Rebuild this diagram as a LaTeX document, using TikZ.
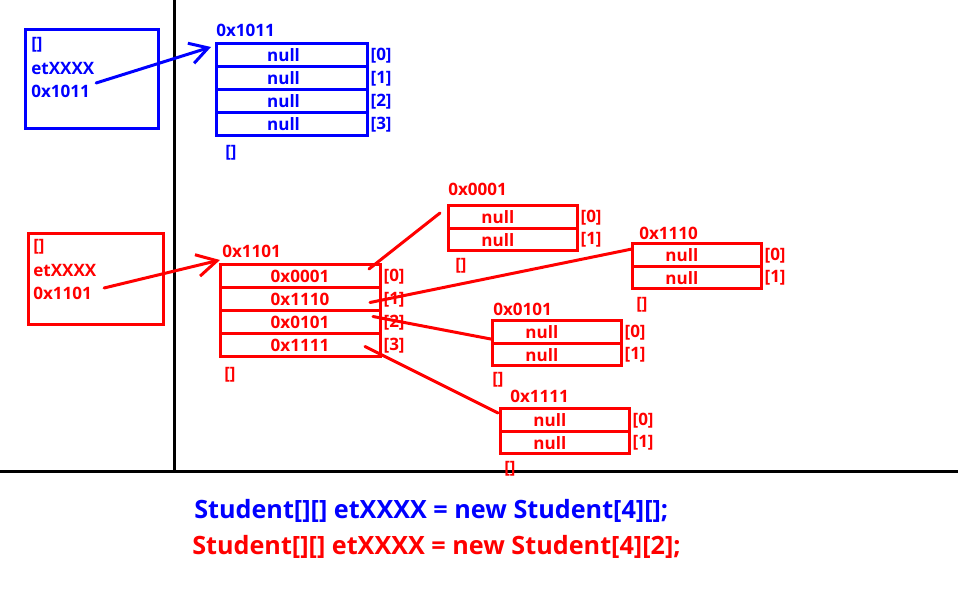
\documentclass[tikz,border=0pt]{standalone}
\usepackage{fontspec}
\setmainfont{Open Sans}
\usetikzlibrary{arrows.meta, calc, positioning}

\tikzset{
  sep/.style={line width=2.25pt},
  txt/.style={anchor=west, inner sep=0pt, font=\bfseries\fontsize{12.8}{15}\selectfont},
  varbox/.style={draw, line width=2.25pt, anchor=north west},
  cell/.style={draw, line width=2.25pt, anchor=north west, inner sep=0pt, outer sep=0pt,
    font=\bfseries\fontsize{12.8}{15}\selectfont},
  bluecell/.style={cell, blue, minimum width=113.25pt, minimum height=17.25pt,
    execute at end node={\kern12pt}},
  maincell/.style={cell, red, minimum width=120pt, minimum height=17.25pt},
  subcell/.style={cell, red, minimum width=96.75pt, minimum height=16.875pt,
    execute at end node={\kern22pt}},
  bidx/.style={blue, inner sep=2.5pt, font=\bfseries\fontsize{12.8}{15}\selectfont},
  ridx/.style={red, inner sep=2.5pt, font=\bfseries\fontsize{12.8}{15}\selectfont},
  link/.style={line width=2.25pt, line cap=round},
  code/.style={anchor=west, inner sep=0pt, font=\bfseries\fontsize{18.9}{22}\selectfont}
}

\begin{document}
\begin{tikzpicture}[x=0.75pt, y=-0.75pt]
    \useasboundingbox (0,0) rectangle (958,602);
    \draw[sep] (174,0) -- (174,472);
    \draw[sep] (0,472) -- (958,472);

    % Student[4][]
    \node[varbox, blue, minimum width=99.75pt, minimum height=74.25pt] (bBox) at (24,28) {};
    \node[txt, blue] (bDim) at (31,45) {[]};
    \node[txt, blue] (bName) at (31,68) {etXXXX};
    \node[txt, blue] (bVal) at (31,91) {0x1011};

    \node[txt, blue] (bAddr) at (216,30) {0x1011};
    \node[bluecell, label={[bidx]0:{[0]}}] (b0) at (216,44) {null};
    \node[bluecell, below=0pt of b0, label={[bidx]0:{[1]}}] (b1) {null};
    \node[bluecell, below=0pt of b1, label={[bidx]0:{[2]}}] (b2) {null};
    \node[bluecell, below=0pt of b2, label={[bidx]0:{[3]}}] (b3) {null};
    \node[txt, blue] (bEnd) at (225,153) {[]};

    \draw[link, blue, -{Straight Barb[length=13.5pt, width=15.75pt]}]
        ($(bVal.east)+(6,-8)$) to ($(b0.north west)+(-5,3)$);

    % Student[4][2]
    \node[varbox, red, minimum width=101.25pt, minimum height=68.25pt] (rBox) at (27,232) {};
    \node[txt, red] (rDim) at (33,247) {[]};
    \node[txt, red] (rName) at (33,270) {etXXXX};
    \node[txt, red] (rVal) at (33,293) {0x1101};

    \node[txt, red] (rAddr) at (222,251) {0x1101};
    \node[maincell, label={[ridx]0:{[0]}}] (r0) at (220,265) {0x0001};
    \node[maincell, below=0pt of r0, label={[ridx]0:{[1]}}] (r1) {0x1110};
    \node[maincell, below=0pt of r1, label={[ridx]0:{[2]}}] (r2) {0x0101};
    \node[maincell, below=0pt of r2, label={[ridx]0:{[3]}}] (r3) {0x1111};
    \node[txt, red] (rEnd) at (224,375) {[]};

    \draw[link, red, -{Straight Barb[length=15pt, width=16.5pt]}]
        ($(rVal.east)+(12,-5)$) to ($(r0.north west)+(0,-5)$);

    \node[txt, red] (sub0Addr) at (448,189) {0x0001};
    \node[subcell, label={[ridx]0:{[0]}}] (sub0a) at (448,206) {null};
    \node[subcell, below=0pt of sub0a, label={[ridx]0:{[1]}}] (sub0b) {null};
    \node[txt, red] (sub0End) at (455,266) {[]};

    \node[txt, red] (sub1Addr) at (639,233) {0x1110};
    \node[subcell, label={[ridx]0:{[0]}}] (sub1a) at (632,244) {null};
    \node[subcell, below=0pt of sub1a, label={[ridx]0:{[1]}}] (sub1b) {null};
    \node[txt, red] (sub1End) at (636,305) {[]};

    \node[txt, red] (sub2Addr) at (493,309) {0x0101};
    \node[subcell, label={[ridx]0:{[0]}}] (sub2a) at (492,321) {null};
    \node[subcell, below=0pt of sub2a, label={[ridx]0:{[1]}}] (sub2b) {null};
    \node[txt, red] (sub2End) at (492,380) {[]};

    \node[txt, red] (sub3Addr) at (510,396) {0x1111};
    \node[subcell, label={[ridx]0:{[0]}}] (sub3a) at (500,409) {null};
    \node[subcell, below=0pt of sub3a, label={[ridx]0:{[1]}}] (sub3b) {null};
    \node[txt, red] (sub3End) at (504,469) {[]};

    \draw[link, red] ($(r0.east)+(-11,-7.5)$) to ($(sub0a.north west)+(-8,7)$)
        ($(r1.east)+(-10,3)$) to ($(sub1a.north west)+(0,5)$)
        ($(r2.east)+(-7,-6)$) to ($(sub2a.west)+(0,7)$)
        ($(r3.east)+(-15,1)$) to ($(sub3a.north west)+(-2,4)$);

    \node[code, blue] (bCode) at (194,511) {Student[][] etXXXX = new Student[4][];};
    \node[code, red] (rCode) at (192,547) {Student[][] etXXXX = new Student[4][2];};
\end{tikzpicture}
\end{document}
